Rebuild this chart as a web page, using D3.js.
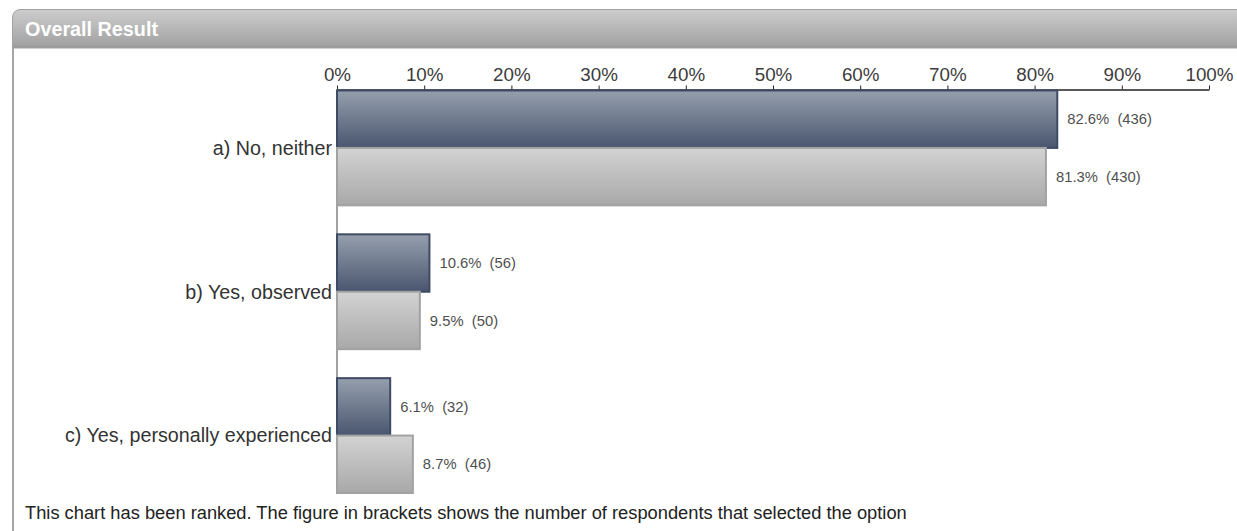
<!DOCTYPE html>
<html>
<head>
<meta charset="utf-8">
<script src="https://cdn.jsdelivr.net/npm/d3@7"></script>
<style>
  html, body { margin: 0; padding: 0; background: #fff; }
  svg { display: block; font-family: "Liberation Sans", Arial, sans-serif; }
</style>
</head>
<body>
<svg id="chart" width="1237" height="531"></svg>
<script>
// Answer options, in ranked order
const categories = ["a) No, neither", "b) Yes, observed", "c) Yes, personally experienced"];
// Two response groups: percentage share and respondent count per option
const seriesKeys = ["primary", "comparison"];
const primaryPercent = [82.6, 10.6, 6.1];
const primaryCount = [436, 56, 32];
const comparisonPercent = [81.3, 9.5, 8.7];
const comparisonCount = [430, 50, 46];
const tickValues = [0, 10, 20, 30, 40, 50, 60, 70, 80, 90, 100];
const titleText = "Overall Result";
const footnoteText = "This chart has been ranked. The figure in brackets shows the number of respondents that selected the option";

const rows = categories.map((c, i) => ({
  category: c,
  values: [
    { key: "primary", pct: primaryPercent[i], n: primaryCount[i] },
    { key: "comparison", pct: comparisonPercent[i], n: comparisonCount[i] }
  ]
}));

const W = 1237, H = 531;
const svg = d3.select("#chart");
const defs = svg.append("defs");

function vGrad(id, stops) {
  const g = defs.append("linearGradient").attr("id", id)
    .attr("x1", 0).attr("y1", 0).attr("x2", 0).attr("y2", 1);
  stops.forEach(([o, c]) => g.append("stop").attr("offset", o).attr("stop-color", c));
}
vGrad("hdr", [[0, "#cdcdcd"], [1, "#9f9f9f"]]);
vGrad("barDark", [[0, "#959fad"], [1, "#4a5670"]]);
vGrad("barLight", [[0, "#d3d3d3"], [1, "#a8a8a8"]]);

// Panel frame: header strip with rounded corner and left border
svg.append("line")
  .attr("x1", 13).attr("x2", 13).attr("y1", 20).attr("y2", H)
  .attr("stroke", "#a6a6a6").attr("stroke-width", 2);
svg.append("path")
  .attr("d", `M12.5,48 V18 Q12.5,9.5 21,9.5 H${W + 5} V48 Z`)
  .attr("fill", "url(#hdr)")
  .attr("stroke", "#a2a2a2").attr("stroke-width", 1);
svg.append("line")
  .attr("x1", 13).attr("x2", W).attr("y1", 46.5).attr("y2", 46.5)
  .attr("stroke", "#9a9a9a").attr("stroke-width", 2);
svg.append("text")
  .attr("x", 25).attr("y", 35.5)
  .attr("fill", "#fff").attr("font-weight", "bold").attr("font-size", 19.8)
  .text(titleText);

// Scales
const x = d3.scaleLinear().domain([0, 100]).range([337, 1209]);
const y = d3.scaleBand().domain(categories).range([90.5, 493]).paddingInner(0.2014).paddingOuter(0);
const ySub = d3.scaleBand().domain(seriesKeys).range([0, y.bandwidth()]).padding(0);

// Top percentage axis
const xAxis = svg.append("g")
  .attr("transform", "translate(0,89.5)")
  .call(d3.axisTop(x).tickValues(tickValues).tickSize(4).tickSizeOuter(0).tickPadding(5)
    .tickFormat(d => d + "%"));
xAxis.select(".domain").attr("stroke", "#222").attr("stroke-width", 1.3);
xAxis.selectAll(".tick line").attr("stroke", "#222");
xAxis.selectAll(".tick text")
  .attr("font-size", 18.8).attr("fill", "#3c3c3c")
  .attr("font-family", "\"Liberation Sans\", Arial, sans-serif");

// Vertical baseline at 0%
svg.append("line")
  .attr("x1", x(0)).attr("x2", x(0))
  .attr("y1", 89.5).attr("y2", y.range()[1])
  .attr("stroke", "#8a8a8a").attr("stroke-width", 1.6);

// Bars
const groups = svg.append("g").selectAll("g.row")
  .data(rows).join("g")
  .attr("class", "row")
  .attr("transform", d => `translate(0,${y(d.category)})`);

groups.selectAll("rect")
  .data(d => d.values).join("rect")
  .attr("x", x(0))
  .attr("y", v => ySub(v.key))
  .attr("width", v => x(v.pct) - x(0))
  .attr("height", ySub.bandwidth())
  .attr("fill", v => v.key === "primary" ? "url(#barDark)" : "url(#barLight)")
  .attr("stroke", v => v.key === "primary" ? "#3f4b64" : "#a2a2a2")
  .attr("stroke-width", 2);

// Value labels: share and respondent count
groups.selectAll("text.val")
  .data(d => d.values).join("text")
  .attr("class", "val")
  .attr("x", v => x(v.pct) + 10)
  .attr("y", v => ySub(v.key) + ySub.bandwidth() / 2)
  .attr("dy", "0.35em")
  .attr("font-size", 14.8)
  .attr("fill", "#505050")
  .style("white-space", "pre")
  .text(v => `${v.pct.toFixed(1)}%  (${v.n})`);

// Category labels, centred on each pair of bars
groups.append("text")
  .attr("x", x(0) - 5)
  .attr("y", y.bandwidth() / 2)
  .attr("dy", "0.35em")
  .attr("text-anchor", "end")
  .attr("font-size", 19.7)
  .attr("fill", "#333")
  .text(d => d.category);

// Footnote
svg.append("text")
  .attr("x", 25).attr("y", 519)
  .attr("font-size", 18.3)
  .attr("fill", "#222")
  .text(footnoteText);
</script>
</body>
</html>
